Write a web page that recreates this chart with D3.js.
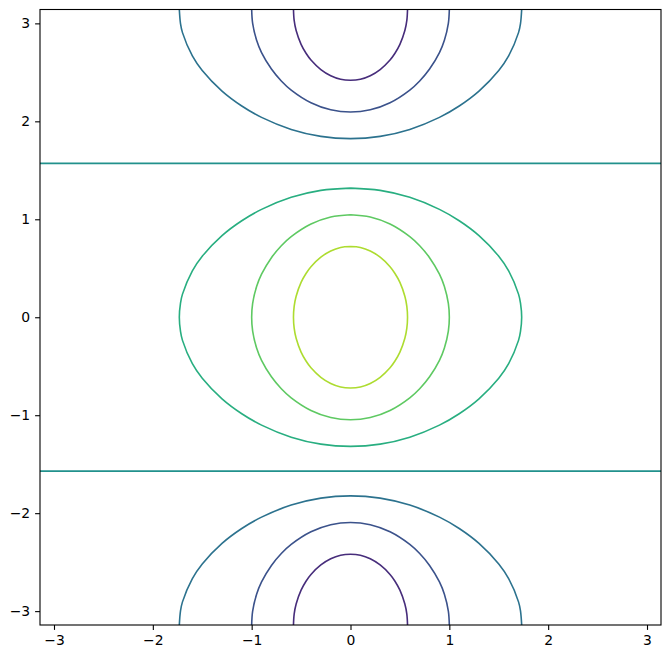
<!DOCTYPE html>
<html><head><meta charset="utf-8">
<script src="https://cdn.jsdelivr.net/npm/d3@7"></script>
<style>body{margin:0;background:#fff}svg{display:block}</style>
</head><body>
<script>
// Contour levels drawn (line contours)
const levels = [-0.75, -0.5, -0.25, 0, 0.25, 0.5, 0.75];
// Quadrant vertices (x >= 0, y >= 0) of the closed contours around the origin
const quad075 = [[0,0.722],[0.1,0.712],[0.2,0.676],[0.3,0.613],[0.4,0.516],[0.45,0.447],[0.5,0.356],[0.55,0.215],[0.57,0.112],[0.577,0]];
const quad050 = [[0,1.047],[0.2,1.024],[0.4,0.952],[0.6,0.823],[0.7,0.730],[0.8,0.608],[0.9,0.440],[0.95,0.314],[0.99,0.141],[1.0,0]];
const quad025 = [[0,1.318],[0.3,1.295],[0.6,1.224],[0.9,1.101],[1.1,0.985],[1.3,0.833],[1.5,0.623],[1.6,0.474],[1.7,0.236],[1.72,0.144],[1.732,0]];
// Level-0 horizontal lines
const zeroLinesY = [1.5708, -1.5708];
const xTicks = [-3,-2,-1,0,1,2,3];
const yTicks = [-3,-2,-1,0,1,2,3];

const W = 670, H = 659;
const L = 40, T = 9.5, R = 661, B = 625;
const PI = Math.PI;
const svg = d3.select("body").append("svg").attr("width", W).attr("height", H);
const x = d3.scaleLinear().domain([-PI, PI]).range([L, R]);
const y = d3.scaleLinear().domain([-PI, PI]).range([B, T]);
const color = l => d3.interpolateViridis((l + 1) / 2);

const g = svg.append("g");
g.append("clipPath").attr("id","clip").append("rect").attr("x",L).attr("y",T).attr("width",R-L).attr("height",B-T);
const plot = g.append("g").attr("clip-path","url(#clip)");
const line = d3.line().x(d => x(d[0])).y(d => y(d[1])).curve(d3.curveCatmullRom.alpha(0.5));
const straight = d3.line().x(d => x(d[0])).y(d => y(d[1]));

function closedLoop(q){
  const q1 = q.slice();
  const q4 = q.slice().reverse().map(([a,b]) => [a,-b]);
  const q3 = q.slice().map(([a,b]) => [-a,-b]);
  const q2 = q.slice().reverse().map(([a,b]) => [-a,b]);
  return q1.concat(q4.slice(1), q3.slice(1), q2.slice(1));
}
function capTop(q){
  // half loop hanging from y = pi: from (xmax, pi) through (0, pi - y0) to (-xmax, pi)
  const right = q.slice().reverse().map(([a,b]) => [a, PI - b]);
  const left = q.slice(1).map(([a,b]) => [-a, PI - b]);
  return right.concat(left);
}
const quads = {0.25: quad025, 0.5: quad050, 0.75: quad075};

levels.forEach(l => {
  const st = p => p.attr("fill","none").attr("stroke", color(l)).attr("stroke-width",1.6).attr("stroke-linejoin","round");
  if (l === 0) {
    zeroLinesY.forEach(yy => st(plot.append("path").attr("d", straight([[-PI, yy],[PI, yy]]))));
  } else if (l > 0) {
    st(plot.append("path").attr("d", line(closedLoop(quads[l]))));
  } else {
    const top = capTop(quads[-l]);
    st(plot.append("path").attr("d", line(top)));
    st(plot.append("path").attr("d", line(top.map(([a,b]) => [a,-b]))));
  }
});

const fmt = v => (v < 0 ? "\u2212" + Math.abs(v) : String(v));
const xa = g.append("g").attr("transform", `translate(0,${B})`)
  .call(d3.axisBottom(x).tickValues(xTicks).tickFormat(fmt).tickSize(4.9).tickPadding(4.9));
const ya = g.append("g").attr("transform", `translate(${L},0)`)
  .call(d3.axisLeft(y).tickValues(yTicks).tickFormat(fmt).tickSize(4.9).tickPadding(4.9));
[xa, ya].forEach(a => {
  a.select(".domain").remove();
  a.selectAll("text").attr("font-family","DejaVu Sans").attr("font-size","13.9px").attr("fill","#000");
  a.selectAll("line").attr("stroke","#000").attr("stroke-width",1.1);
});
g.append("rect").attr("x",L).attr("y",T).attr("width",R-L).attr("height",B-T)
  .attr("fill","none").attr("stroke","#000").attr("stroke-width",1.1);
</script>
</body></html>
